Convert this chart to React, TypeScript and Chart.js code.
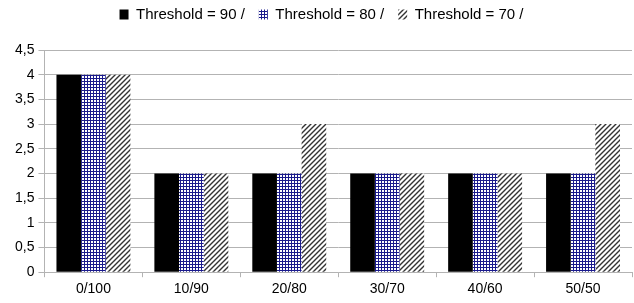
import React, { useEffect, useRef } from "react";
import { Chart, registerables } from "chart.js";

Chart.register(...registerables);

const categories = ["0/100", "10/90", "20/80", "30/70", "40/60", "50/50"];
const seriesNames = ["Threshold = 90 /", "Threshold = 80 /", "Threshold = 70 /"];
const values90 = [4, 2, 2, 2, 2, 2];
const values80 = [4, 2, 2, 2, 2, 2];
const values70 = [4, 2, 3, 2, 2, 3];

function makeGrid(): CanvasPattern | string {
  const c = document.createElement("canvas");
  c.width = 3;
  c.height = 3;
  const ctx = c.getContext("2d")!;
  ctx.fillStyle = "#ffffff";
  ctx.fillRect(0, 0, 3, 3);
  ctx.fillStyle = "#1a1a8c";
  ctx.fillRect(0, 0, 1, 3);
  ctx.fillRect(0, 0, 3, 1);
  return ctx.createPattern(c, "repeat") || "#000080";
}

function makeHatch(): CanvasPattern | string {
  const s = 5;
  const c = document.createElement("canvas");
  c.width = s;
  c.height = s;
  const ctx = c.getContext("2d")!;
  ctx.fillStyle = "#ffffff";
  ctx.fillRect(0, 0, s, s);
  ctx.strokeStyle = "#333333";
  ctx.lineWidth = 1.4;
  ctx.beginPath();
  ctx.moveTo(-1, s + 1);
  ctx.lineTo(s + 1, -1);
  ctx.moveTo(-1, 1);
  ctx.lineTo(1, -1);
  ctx.moveTo(s - 1, s + 1);
  ctx.lineTo(s + 1, s - 1);
  ctx.stroke();
  return ctx.createPattern(c, "repeat") || "#777";
}

const legendHeightPlugin = {
  id: "legendHeight",
  beforeInit(chart: any) {
    const legend = chart.legend;
    if (!legend) return;
    const origFit = legend.fit;
    legend.fit = function () {
      origFit.call(this);
      this.height = 50;
    };
    const origDraw = legend.draw;
    legend.draw = function () {
      const ctx = this.ctx;
      ctx.save();
      ctx.translate(0, -7);
      origDraw.call(this);
      ctx.restore();
    };
  },
};

export default function App() {
  const ref = useRef<HTMLCanvasElement>(null);
  useEffect(() => {
    const fills = ["#000000", makeGrid(), makeHatch()];
    const font = { family: "'Liberation Sans', Arial, sans-serif", size: 14 };
    const legendFont = { family: "'Liberation Sans', Arial, sans-serif", size: 15 };
    const chart = new Chart(ref.current!, {
      type: "bar",
      data: {
        labels: categories,
        datasets: [values90, values80, values70].map((d, i) => ({
          label: seriesNames[i],
          data: d,
          backgroundColor: fills[i] as any,
          borderWidth: 0,
          barPercentage: 1,
          categoryPercentage: 0.755,
        })),
      },
      plugins: [legendHeightPlugin],
      options: {
        animation: false,
        responsive: false,
        maintainAspectRatio: false,
        layout: { padding: { left: 11, right: 2, top: 0, bottom: 1 } },
        plugins: {
          tooltip: { enabled: false },
          legend: {
            position: "top",
            labels: {
              boxWidth: 9,
              boxHeight: 10,
              color: "#000",
              font: legendFont,
              padding: 14,
            },
          },
        },
        scales: {
          x: {
            grid: {
              offset: true,
              drawOnChartArea: false,
              drawTicks: true,
              tickLength: 5,
              color: "#b3b3b3",
            },
            border: { color: "#b3b3b3" },
            ticks: { color: "#000", font, padding: 4 },
          },
          y: {
            min: 0,
            max: 4.5,
            grid: { color: "#b3b3b3", tickLength: 6 },
            border: { color: "#b3b3b3" },
            ticks: {
              stepSize: 0.5,
              color: "#000",
              font,
              padding: 4,
              callback: (v: any) => String(v).replace(".", ","),
            },
          },
        },
      },
    });
    return () => chart.destroy();
  }, []);
  return (
    <div style={{ position: "absolute", left: 0, top: 0, width: 634, height: 303, background: "#fff" }}>
      <canvas ref={ref} width={634} height={303} style={{ width: 634, height: 303 }} />
    </div>
  );
}
